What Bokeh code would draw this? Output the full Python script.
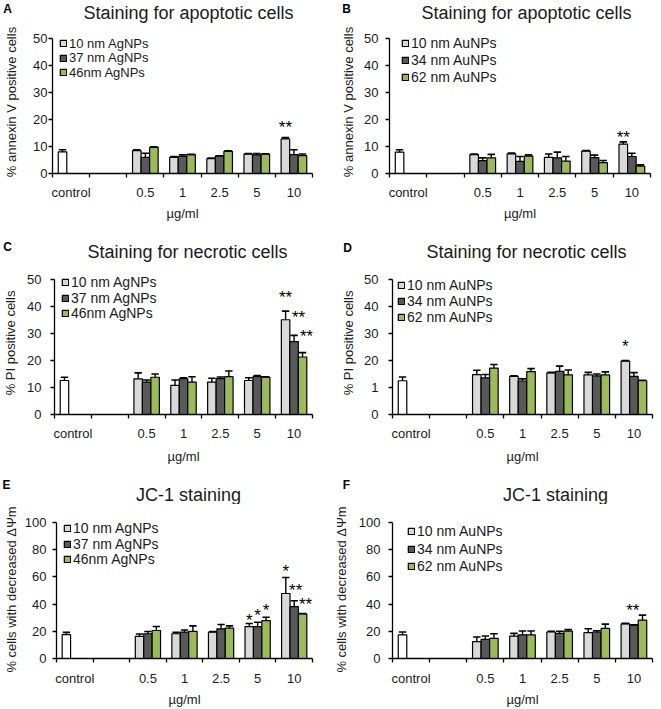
from bokeh.plotting import figure
from bokeh.models import Range1d, FixedTicker, Label, Legend, LegendItem
from bokeh.layouts import row, column
from bokeh.embed import file_html
from bokeh.resources import INLINE
from bokeh.core.properties import value

FONT = "Liberation Sans"

# ---------------- data ----------------
categories = ["control", "", "0.5", "1", "2.5", "5", "10"]
x_title = "µg/ml"

ag_series = ["10 nm AgNPs", "37 nm AgNPs", "46nm AgNPs"]
au_series = ["10 nm AuNPs", "34 nm AuNPs", "62 nm AuNPs"]

# Panel A: annexin V, AgNPs
A_control = 8.0
A_control_sd = 0.8
A_s1 = [8.5, 6.0, 5.5, 7.2, 12.8]
A_s1_sd = [0.3, 0.3, 0.2, 0.2, 0.5]
A_s2 = [6.0, 6.3, 6.5, 6.9, 7.0]
A_s2_sd = [1.5, 0.6, 0.1, 0.5, 1.8]
A_s3 = [9.7, 7.0, 8.2, 7.2, 6.6]
A_s3_sd = [0.2, 0.1, 0.2, 0.1, 0.6]
A_stars = [(6, -0.23, "**", 18.5)]

# Panel B: annexin V, AuNPs
B_control = 7.9
B_control_sd = 0.9
B_s1 = [7.0, 7.3, 6.0, 8.3, 10.9]
B_s1_sd = [0.2, 0.3, 1.2, 0.2, 0.8]
B_s2 = [4.8, 4.5, 5.8, 5.9, 6.3]
B_s2_sd = [1.0, 1.8, 2.1, 0.9, 1.2]
B_s3 = [5.8, 6.4, 4.6, 4.0, 2.7]
B_s3_sd = [1.3, 0.5, 1.7, 0.8, 0.5]
B_stars = [(6, -0.23, "**", 14.8)]

# Panel C: PI, AgNPs
C_control = 12.6
C_control_sd = 1.2
C_s1 = [13.2, 10.8, 12.0, 12.6, 35.1]
C_s1_sd = [2.2, 2.0, 1.4, 1.0, 3.2]
C_s2 = [12.0, 13.3, 13.3, 14.0, 27.0]
C_s2_sd = [0.8, 0.3, 0.6, 0.4, 2.3]
C_s3 = [13.8, 12.0, 14.0, 13.8, 21.3]
C_s3_sd = [1.2, 2.0, 2.1, 0.2, 1.6]
C_stars = [(6, -0.23, "**", 44.8), (6, 0.12, "**", 37.4), (6, 0.34, "**", 30.4)]

# Panel D: PI, AuNPs
D_control = 12.5
D_control_sd = 1.4
D_s1 = [14.8, 14.1, 15.4, 14.7, 19.8]
D_s1_sd = [1.6, 0.2, 0.2, 0.9, 0.2]
D_s2 = [13.6, 12.4, 16.0, 14.3, 14.1]
D_s2_sd = [1.2, 0.8, 1.9, 0.7, 1.4]
D_s3 = [17.2, 15.9, 14.7, 14.7, 12.5]
D_s3_sd = [1.3, 1.1, 1.8, 1.1, 0.2]
D_stars = [(6, -0.23, "*", 26.6)]

# Panel E: JC-1, AgNPs
E_control = 17.5
E_control_sd = 1.7
E_s1 = [16.3, 18.2, 19.4, 23.5, 47.8]
E_s1_sd = [1.7, 1.0, 0.5, 2.2, 11.7]
E_s2 = [18.2, 19.4, 21.8, 23.5, 38.1]
E_s2_sd = [1.7, 1.5, 3.2, 3.2, 4.4]
E_s3 = [20.6, 19.9, 22.3, 27.9, 32.8]
E_s3_sd = [2.9, 4.1, 1.7, 2.4, 0.3]
E_stars = [(5, -0.23, "*", 30.8), (5, 0.0, "*", 34.5), (5, 0.23, "*", 38.1),
           (6, -0.23, "*", 67.2), (6, 0.04, "**", 53.2), (6, 0.31, "**", 43.0)]

# Panel F: JC-1, AuNPs
F_control = 17.3
F_control_sd = 2.2
F_s1 = [12.4, 16.5, 19.5, 19.0, 25.5]
F_s1_sd = [3.4, 2.0, 0.5, 2.9, 0.3]
F_s2 = [14.1, 17.3, 18.5, 19.5, 24.6]
F_s2_sd = [2.4, 2.9, 1.5, 0.9, 0.2]
F_s3 = [14.8, 17.3, 20.2, 22.1, 28.2]
F_s3_sd = [3.4, 2.9, 1.0, 3.2, 3.7]
F_stars = [(6, -0.03, "**", 38.4)]

y_ticks_50 = [0, 10, 20, 30, 40, 50]
y_ticks_100 = [0, 20, 40, 60, 80, 100]

COLORS = ["#d9d9d9", "#595959", "#9bbb59"]
OFFS = [-0.23, 0.0, 0.23]
BW = 0.23
TXT = "#1a1a1a"


def header(width, height, letter, title, letter_xy, title_xy):
    """Strip above a panel holding its letter and title (coords: px from left, px from bottom)."""
    h = figure(width=width, height=height, x_range=Range1d(0, width), y_range=Range1d(0, height),
               toolbar_location=None, output_backend="svg",
               min_border_left=0, min_border_right=0, min_border_top=0, min_border_bottom=0)
    h.axis.visible = False
    h.grid.visible = False
    h.outline_line_color = None
    h.add_layout(Label(x=title_xy[0], y=title_xy[1], x_units="screen", y_units="screen",
                       text=title, text_font=FONT, text_font_size="18px", text_align="center",
                       text_baseline="middle", text_color=TXT))
    h.add_layout(Label(x=letter_xy[0], y=letter_xy[1], x_units="screen", y_units="screen",
                       text=letter, text_font=FONT, text_font_size="12px", text_font_style="bold",
                       text_align="center", text_baseline="middle", text_color="black"))
    return h


def panel(ylabel, names, control, control_sd, series, sds, stars,
          yticks, ymax, width, height, bl, br, bt, bb, frame_px, extra,
          ts_y, als_y, ts_x, als_x, frame_bottom, legend_cfg, ylabel_over=None):
    # the frame reaches `extra` px above the top tick so the legend is not clipped;
    # the y axis line itself stops at the top tick (bounds)
    yend = ymax + ymax * extra / frame_px
    p = figure(width=width, height=height, x_range=Range1d(0, 7), y_range=Range1d(0, yend),
               toolbar_location=None, output_backend="svg",
               min_border_left=bl, min_border_right=br, min_border_top=bt,
               min_border_bottom=bb)
    p.xgrid.visible = False
    p.ygrid.visible = False
    p.outline_line_color = None

    renderers = []
    conc_idx = [2, 3, 4, 5, 6]
    for s in range(3):
        xs = [c + 0.5 + OFFS[s] for c in conc_idx]
        tops = series[s]
        r = p.vbar(x=xs, top=tops, bottom=0, width=BW, fill_color=COLORS[s],
                   line_color="black", line_width=1.2)
        renderers.append(r)
        ups = [t + e for t, e in zip(tops, sds[s])]
        p.segment(x0=xs, y0=tops, x1=xs, y1=ups, line_color="black", line_width=1.4)
        p.segment(x0=[x - 0.1 for x in xs], y0=ups, x1=[x + 0.1 for x in xs], y1=ups,
                  line_color="black", line_width=1.6)
    cx = [0 + 0.5 + OFFS[0]]
    p.vbar(x=cx, top=[control], bottom=0, width=BW, fill_color="white",
           line_color="black", line_width=1.2)
    p.segment(x0=cx, y0=[control], x1=cx, y1=[control + control_sd], line_color="black", line_width=1.4)
    p.segment(x0=[cx[0] - 0.1], y0=[control + control_sd], x1=[cx[0] + 0.1],
              y1=[control + control_sd], line_color="black", line_width=1.6)

    if stars:
        p.text(x=[c + 0.5 + o for c, o, t, y in stars], y=[y for c, o, t, y in stars],
               text=[t for c, o, t, y in stars], text_font=value(FONT), text_font_size="17px",
               text_align="center", text_baseline="middle", y_offset=4, text_color="black")

    xa = p.xaxis[0]
    xa.ticker = FixedTicker(ticks=[i + 0.5 for i in range(7)], minor_ticks=list(range(8)))
    xa.major_label_overrides = {i + 0.5: categories[i] for i in range(7)}
    xa.major_tick_out = 0
    xa.major_tick_in = 0
    xa.minor_tick_out = 4
    xa.minor_tick_in = 0
    xa.minor_tick_line_color = "black"
    xa.minor_tick_line_width = 1.3
    xa.axis_line_color = "black"
    xa.axis_line_width = 1.3
    xa.major_label_text_font = FONT
    xa.major_label_text_font_size = "13px"
    xa.major_label_text_color = TXT
    xa.major_label_standoff = ts_x
    xa.axis_label = x_title
    xa.axis_label_text_font = FONT
    xa.axis_label_text_font_size = "13px"
    xa.axis_label_text_font_style = "normal"
    xa.axis_label_text_color = TXT
    xa.axis_label_standoff = als_x

    ya = p.yaxis[0]
    ya.ticker = FixedTicker(ticks=yticks, minor_ticks=[])
    ya.bounds = (0, ymax)
    if ylabel_over:
        ya.major_label_overrides = ylabel_over
    ya.major_tick_out = 4
    ya.major_tick_in = 0
    ya.major_tick_line_color = "black"
    ya.major_tick_line_width = 1.3
    ya.axis_line_color = "black"
    ya.axis_line_width = 1.3
    ya.major_label_text_font = FONT
    ya.major_label_text_font_size = "13px"
    ya.major_label_text_color = TXT
    ya.major_label_standoff = ts_y
    ya.axis_label = ylabel
    ya.axis_label_text_font = FONT
    ya.axis_label_text_font_size = "13px"
    ya.axis_label_text_font_style = "normal"
    ya.axis_label_text_color = TXT
    ya.axis_label_standoff = als_y

    # legend, one entry per row: (glyph x from frame left, first row centre in page px, row pitch, font)
    lx, c1, d, fs = legend_cfg
    h = 16
    for i in range(3):
        ci = c1 + i * d
        leg = Legend(items=[LegendItem(label=names[i], renderers=[renderers[i]])],
                     location=(lx, frame_bottom - (ci + h / 2)), orientation="vertical",
                     glyph_width=8, glyph_height=8, label_height=h, label_width=10,
                     label_standoff=2, spacing=0, padding=0, margin=0,
                     label_text_font=FONT, label_text_font_size=fs, label_text_color=TXT,
                     label_text_baseline="middle",
                     border_line_color=None, background_fill_alpha=0)
        p.add_layout(leg)
    return p


# row 1: header 0..24, plot 24..232 (frame 30..173, top tick at 38)
hA = header(330, 24, "A", "Staining for apoptotic cells", (7, 16), (188, 12))
hB = header(331, 24, "B", "Staining for apoptotic cells", (16, 16), (196, 12))
pA = panel("% annexin V positive cells", ag_series,
           A_control, A_control_sd, [A_s1, A_s2, A_s3], [A_s1_sd, A_s2_sd, A_s3_sd], A_stars,
           y_ticks_50, 50, 330, 208, 52, 18, 6, 59, 135, 8, 1, 11, 7, 3, 173,
           (7, 43, 14.5, "13px"))
pB = panel("% annexin V positive cells", au_series,
           B_control, B_control_sd, [B_s1, B_s2, B_s3], [B_s1_sd, B_s2_sd, B_s3_sd], B_stars,
           y_ticks_50, 50, 331, 208, 59, 11, 6, 59, 135, 8, 7, 5, 7, 3, 173,
           (12, 43, 17, "14px"))

# row 2: header 232..262, plot 262..466 (frame 271..414, top tick at 279)
hC = header(330, 30, "C", "Staining for necrotic cells", (7, 16), (187, 11))
hD = header(331, 30, "D", "Staining for necrotic cells", (17, 15), (196, 11))
pC = panel("% PI positive cells", ag_series,
           C_control, C_control_sd, [C_s1, C_s2, C_s3], [C_s1_sd, C_s2_sd, C_s3_sd], C_stars,
           y_ticks_50, 50, 330, 204, 52, 18, 9, 52, 135, 8, 9, 6, 7, 5, 414,
           (7, 282, 15.5, "14px"))
pD = panel("% PI positive cells", au_series,
           D_control, D_control_sd, [D_s1, D_s2, D_s3], [D_s1_sd, D_s2_sd, D_s3_sd], D_stars,
           y_ticks_50, 50, 331, 204, 62, 9, 9, 52, 135, 8, 10, 5, 7, 5, 414,
           (5, 285, 16, "14px"), ylabel_over={10: "1"})

# row 3: header 466..504, plot 504..709 (frame 520..659, top tick at 522)
hE = header(330, 38, "E", "JC-1 staining", (6, 20), (188, 10))
hF = header(331, 38, "F", "JC-1 staining", (16, 20), (225, 10))
pE = panel("% cells with decreased ΔΨm", ag_series,
           E_control, E_control_sd, [E_s1, E_s2, E_s3], [E_s1_sd, E_s2_sd, E_s3_sd], E_stars,
           y_ticks_100, 100, 330, 205, 52, 18, 16, 50, 137, 2, 6, 3, 8, 3, 659,
           (7, 529, 15.5, "14px"))
pF = panel("% cells with decreased ΔΨm", au_series,
           F_control, F_control_sd, [F_s1, F_s2, F_s3], [F_s1_sd, F_s2_sd, F_s3_sd], F_stars,
           y_ticks_100, 100, 331, 205, 61, 9, 16, 50, 137, 2, 8, 7, 8, 3, 659,
           (15, 532, 17.5, "14px"))

layout = column(row(hA, hB), row(pA, pB), row(hC, hD), row(pC, pD), row(hE, hF), row(pE, pF))
open("out.html", "w").write(file_html(layout, INLINE))
